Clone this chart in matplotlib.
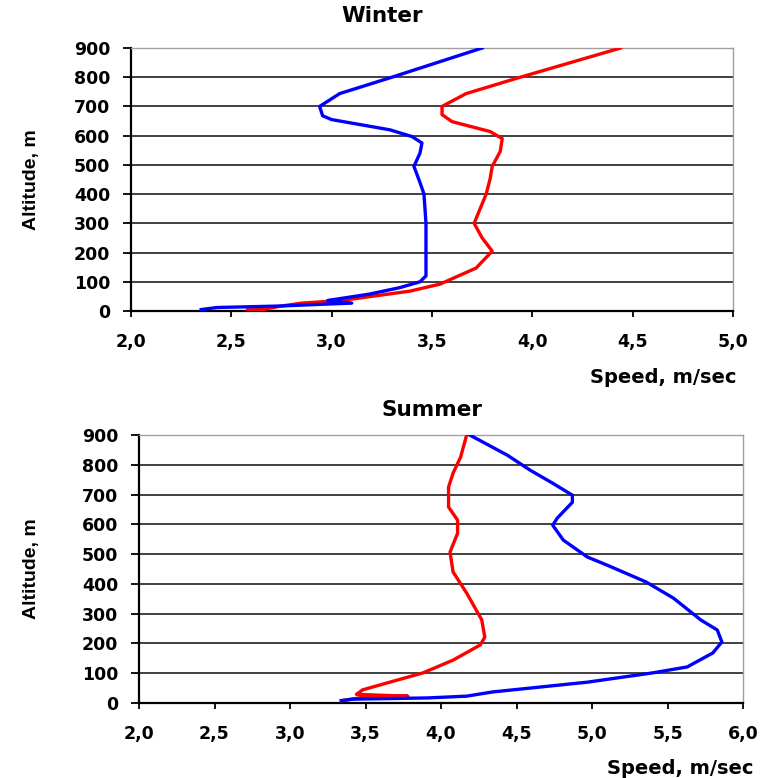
import matplotlib
matplotlib.use("Agg")
import matplotlib.pyplot as plt
import numpy as np

# ---------------- data ----------------
winter_blue_speed = [2.35, 2.43, 2.74, 2.95, 3.10, 2.98, 3.19, 3.34, 3.44, 3.47, 3.47, 3.47, 3.46, 3.44,
                     3.41, 3.44, 3.45, 3.40, 3.29, 3.00, 2.955, 2.94, 3.04, 3.30, 3.75]
winter_blue_alt = [5, 12, 17, 23, 27, 36, 58, 80, 100, 120, 200, 300, 400, 440,
                   495, 540, 575, 597, 620, 655, 668, 700, 744, 800, 900]

winter_red_speed = [2.58, 2.66, 2.74, 2.85, 3.05, 3.39, 3.54, 3.72, 3.80, 3.75, 3.71, 3.74, 3.77, 3.79,
                    3.80, 3.84, 3.85, 3.79, 3.60, 3.55, 3.55, 3.67, 3.94, 4.44]
winter_red_alt = [4, 5, 16, 27, 36, 68, 92, 147, 205, 250, 300, 350, 400, 454,
                  495, 546, 590, 614, 648, 672, 700, 744, 800, 900]

summer_blue_speed = [3.34, 3.42, 3.91, 4.17, 4.34, 4.97, 5.40, 5.63, 5.80, 5.86, 5.83, 5.72, 5.54, 5.36,
                     5.10, 4.97, 4.81, 4.74, 4.77, 4.87, 4.87, 4.74, 4.59, 4.44, 4.19]
summer_blue_alt = [8, 13, 17, 23, 37, 70, 101, 121, 168, 205, 245, 279, 352, 406,
                   463, 490, 547, 597, 621, 674, 698, 738, 782, 832, 900]

summer_red_speed = [3.34, 3.50, 3.78, 3.44, 3.46, 3.48, 3.64, 3.88, 4.08, 4.26, 4.29, 4.27, 4.17, 4.08,
                    4.06, 4.11, 4.11, 4.05, 4.05, 4.08, 4.13, 4.17]
summer_red_alt = [8, 20, 23, 29, 36, 44, 67, 101, 144, 195, 221, 279, 369, 440,
                  507, 570, 614, 658, 725, 772, 826, 900]

alt_ticks = [0, 100, 200, 300, 400, 500, 600, 700, 800, 900]
winter_xticks = [2.0, 2.5, 3.0, 3.5, 4.0, 4.5, 5.0]
summer_xticks = [2.0, 2.5, 3.0, 3.5, 4.0, 4.5, 5.0, 5.5, 6.0]

# ---------------- figure ----------------
W, H = 765, 778
fig = plt.figure(figsize=(W / 100, H / 100), dpi=100)
plt.rcParams['font.family'] = ['DejaVu Sans']


def px_axes(left, top, right, bottom):
    return fig.add_axes([left / W, 1 - bottom / H, (right - left) / W, (bottom - top) / H])


def style(ax, xticks):
    ax.set_ylim(0, 900)
    ax.set_xlim(xticks[0], xticks[-1])
    ax.set_yticks(alt_ticks)
    ax.set_xticks(xticks)
    ax.set_xticklabels([f"{v:.1f}".replace('.', ',') for v in xticks],
                       fontsize=12.5, fontweight='bold')
    ax.set_yticklabels([str(v) for v in alt_ticks], fontsize=12.5, fontweight='bold')
    for v in alt_ticks[1:-1]:
        ax.axhline(v, color='#202020', lw=1.2, zorder=1)
    for s in ['left', 'bottom']:
        ax.spines[s].set_color('black')
        ax.spines[s].set_linewidth(1.6)
    for s in ['top', 'right']:
        ax.spines[s].set_color('#a0a0a0')
        ax.spines[s].set_linewidth(1.0)
    ax.tick_params(axis='y', direction='out', length=6, width=1.3, pad=9)
    ax.tick_params(axis='x', direction='out', length=4, width=1.3, pad=12)


ax1 = px_axes(131, 48, 733, 311)
ax1.plot(winter_red_speed, winter_red_alt, color='#ff0000', lw=2.4, zorder=3, solid_joinstyle='round')
ax1.plot(winter_blue_speed, winter_blue_alt, color='#0000ff', lw=2.4, zorder=4, solid_joinstyle='round')
style(ax1, winter_xticks)

ax2 = px_axes(139, 435, 743, 703)
ax2.plot(summer_red_speed, summer_red_alt, color='#ff0000', lw=2.4, zorder=3, solid_joinstyle='round')
ax2.plot(summer_blue_speed, summer_blue_alt, color='#0000ff', lw=2.4, zorder=4, solid_joinstyle='round')
style(ax2, summer_xticks)

# titles and labels
fig.text(382 / W, 1 - 16 / H, "Winter", ha='center', va='center', fontsize=15.5, fontweight='bold')
fig.text(432 / W, 1 - 410 / H, "Summer", ha='center', va='center', fontsize=15.5, fontweight='bold')
fig.text(663 / W, 1 - 377 / H, "Speed, m/sec", ha='center', va='center', fontsize=14, fontweight='bold')
fig.text(680 / W, 1 - 768 / H, "Speed, m/sec", ha='center', va='center', fontsize=14, fontweight='bold')
fig.text(32 / W, 1 - 180 / H, "Altitude, m", ha='center', va='center', rotation=90,
         fontsize=14, fontweight='bold', family=['Liberation Sans', 'DejaVu Sans'])
fig.text(32 / W, 1 - 569 / H, "Altitude, m", ha='center', va='center', rotation=90,
         fontsize=14, fontweight='bold', family=['Liberation Sans', 'DejaVu Sans'])

fig.savefig("out.png", dpi=100, facecolor='white')
